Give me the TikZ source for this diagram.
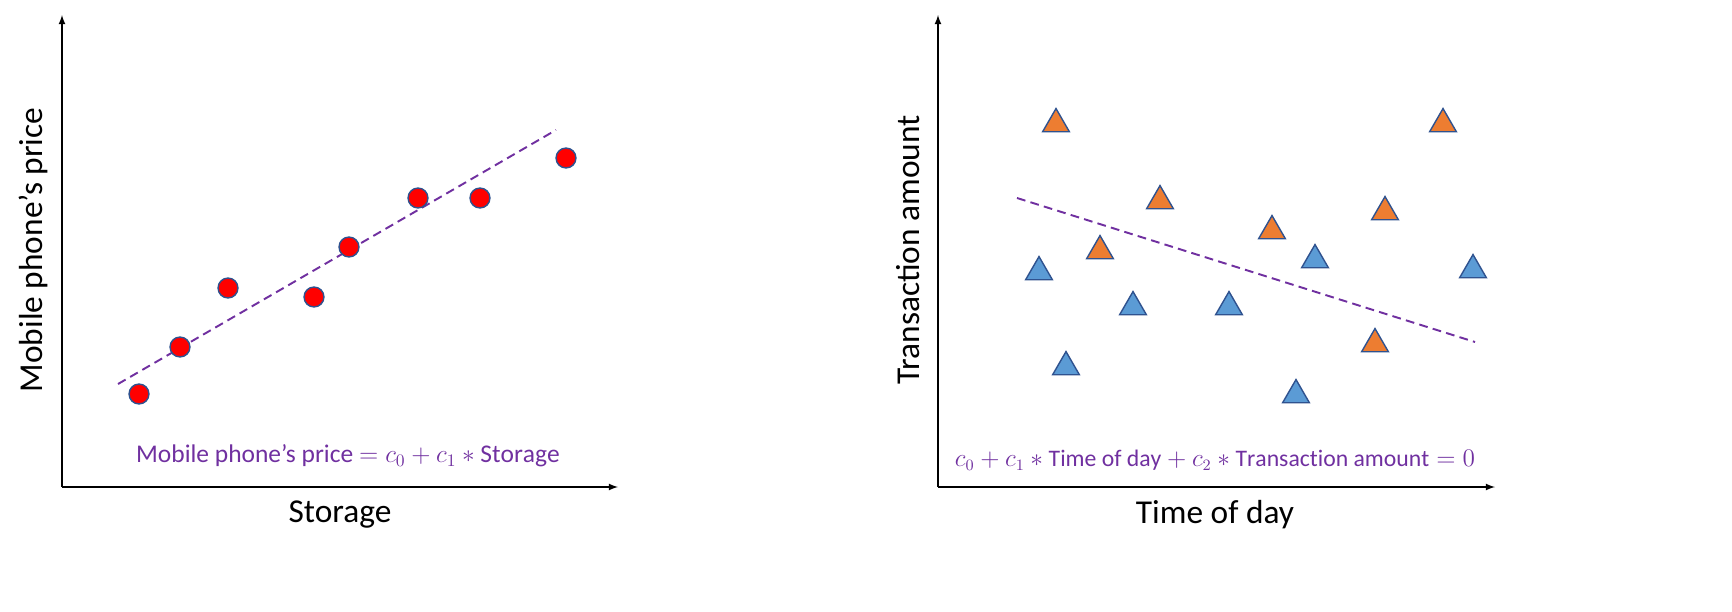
\documentclass[tikz,border=0pt]{standalone}
\usepackage{fontspec}
\setmainfont{Carlito}
\definecolor{lineviolet}{HTML}{7030A0}
\definecolor{dotred}{HTML}{FF0000}
\definecolor{rimblue}{HTML}{2F528F}
\definecolor{triorange}{HTML}{ED7D31}
\definecolor{triblue}{HTML}{5B9BD5}
\tikzset{
  axis/.style={-latex, thick},
  fitline/.style={dash pattern=on 5pt off 3pt, line width=1.1pt, lineviolet},
  reddot/.style={circle, draw=rimblue, fill=dotred, thick, minimum size=20pt*0.567, inner sep=0pt},
  tri/.style={regular polygon, regular polygon sides=3, draw=rimblue, thick, minimum size=31pt*0.567, inner sep=0pt},
  axislabel/.style={font=\fontsize{19}{22}\selectfont},
  formula/.style={font=\fontsize{13.5}{16}\selectfont, text=lineviolet},
}
\usetikzlibrary{shapes.geometric}
\begin{document}
\begin{tikzpicture}[x=0.02cm, y=-0.02cm]
  \useasboundingbox (0,0) rectangle (1732,612);
  % left plot
  \coordinate (o1) at (62,487);
  \coordinate (y1) at (62,15);
  \coordinate (x1) at (618,487);
  \draw [axis] (o1) -- (y1);
  \draw [axis] (o1) -- (x1);
  \coordinate (a1) at (118,384);
  \coordinate (b1) at (556,130);
  \draw [fitline] (a1) -- (b1);
  \foreach \px/\py [count=\i] in {139/394,180/347,228/288,314/297,349/247,418/198,480/198,566/158}
    \node [reddot] (p\i) at (\px,\py) {};
  \node [axislabel] (xl1) at (340,515) {Storage};
  \node [axislabel, rotate=90] (yl1) at (33,250) {Mobile phone’s price};
  \node [formula, font=\fontsize{14.5}{17}\selectfont] (f1) at (348,456) {Mobile phone’s price $=c_0+c_1*\mathrm{Storage}$};
  % right plot
  \coordinate (o2) at (938,487);
  \coordinate (y2) at (938,15);
  \coordinate (x2) at (1495,487);
  \draw [axis] (o2) -- (y2);
  \draw [axis] (o2) -- (x2);
  \coordinate (a2) at (1017,198);
  \coordinate (b2) at (1475,342);
  \draw [fitline] (a2) -- (b2);
  \foreach \px/\py [count=\i] in {1056/124,1160/201,1100/251,1272/231,1385/212,1443/124,1375/344}
    \node [tri, fill=triorange] (t\i) at (\px,\py) {};
  \foreach \px/\py [count=\i] in {1039/272,1066/367,1133/307,1229/307,1315/260,1296/395,1473/270}
    \node [tri, fill=triblue] (s\i) at (\px,\py) {};
  \node [axislabel] (xl2) at (1215,515) {Time of day};
  \node [axislabel, rotate=90] (yl2) at (908,250) {Transaction amount};
  \node [formula] (f2) at (1215,460) {$c_0+c_1*\mathrm{Time\ of\ day}+c_2*\mathrm{Transaction\ amount}=0$};
\end{tikzpicture}
\end{document}
